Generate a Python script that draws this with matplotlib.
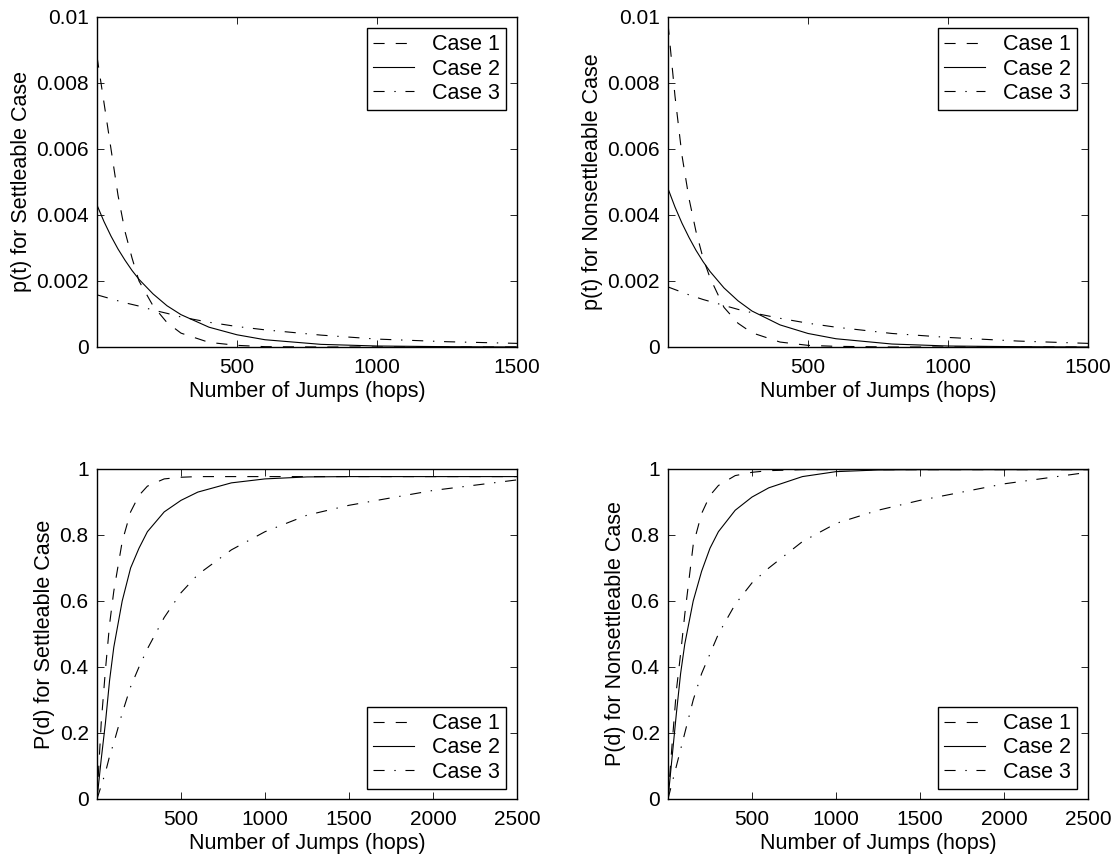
import matplotlib
matplotlib.use("Agg")
import matplotlib.pyplot as plt

plt.rcParams['font.family'] = ['Liberation Sans', 'DejaVu Sans']
plt.rcParams['font.size'] = 15.5
plt.rcParams['lines.scale_dashes'] = False

# ---- data ----
hops_top = [0, 25, 50, 75, 100, 125, 150, 200, 250, 300, 400, 500, 600, 800, 1000, 1250, 1500]

pt_settle_c1 = [0.0088, 0.0074, 0.0060, 0.0046, 0.0035, 0.0027, 0.0020, 0.00125, 0.00074, 0.00042,
                0.00014, 0.00005, 0.00001, 0.0, 0.0, 0.0, 0.0]
pt_settle_c2 = [0.0043, 0.0038, 0.00336, 0.00297, 0.00263, 0.00232, 0.00205, 0.00161, 0.00125, 0.00098,
                0.00060, 0.00037, 0.00022, 0.00008, 0.00003, 0.00001, 0.0]
pt_settle_c3 = [0.00158, 0.00152, 0.00146, 0.00140, 0.00134, 0.00129, 0.00124, 0.00112, 0.00102, 0.00091,
                0.00075, 0.00062, 0.00052, 0.00036, 0.00024, 0.00016, 0.00011]

pt_nonsettle_c1 = [0.0098, 0.0076, 0.0058, 0.0045, 0.0035, 0.0027, 0.0021, 0.0012, 0.00072, 0.00043,
                   0.00015, 0.00005, 0.00002, 0.0, 0.0, 0.0, 0.0]
pt_nonsettle_c2 = [0.0048, 0.00424, 0.00375, 0.00332, 0.00293, 0.00259, 0.00229, 0.00179, 0.0014, 0.00109,
                   0.00067, 0.00041, 0.00025, 0.00009, 0.00003, 0.00001, 0.0]
pt_nonsettle_c3 = [0.00182, 0.00174, 0.00166, 0.00158, 0.00151, 0.00144, 0.00138, 0.00126, 0.00114, 0.00104,
                   0.00087, 0.00072, 0.0006, 0.00041, 0.00029, 0.00018, 0.00011]

hops_bot = [0, 25, 50, 75, 100, 150, 200, 250, 300, 400, 500, 600, 800, 1000, 1250, 1500, 2000, 2500]

Pd_settle_c1 = [0, 0.23, 0.39, 0.53, 0.63, 0.78, 0.87, 0.92, 0.948, 0.97, 0.975, 0.977, 0.977, 0.977,
                0.977, 0.977, 0.977, 0.977]
Pd_settle_c2 = [0, 0.12, 0.23, 0.36, 0.46, 0.60, 0.70, 0.76, 0.81, 0.87, 0.905, 0.93, 0.958, 0.97,
                0.976, 0.977, 0.977, 0.977]
Pd_settle_c3 = [0, 0.04, 0.08, 0.13, 0.17, 0.26, 0.34, 0.40, 0.455, 0.55, 0.625, 0.68, 0.755, 0.81,
                0.86, 0.89, 0.935, 0.967]

Pd_nonsettle_c1 = [0, 0.17, 0.33, 0.44, 0.56, 0.77, 0.865, 0.92, 0.95, 0.98, 0.99, 0.995, 0.998, 0.998,
                   0.998, 0.998, 0.998, 0.998]
Pd_nonsettle_c2 = [0, 0.13, 0.26, 0.38, 0.47, 0.60, 0.69, 0.76, 0.81, 0.875, 0.915, 0.943, 0.977, 0.992,
                   0.997, 0.998, 0.998, 0.998]
Pd_nonsettle_c3 = [0, 0.05, 0.10, 0.15, 0.20, 0.30, 0.38, 0.44, 0.50, 0.59, 0.655, 0.70, 0.78, 0.835,
                   0.875, 0.905, 0.955, 0.99]

case_labels = ['Case 1', 'Case 2', 'Case 3']

dash = (0, (8, 8))
dashdot = (0, (8, 7, 1, 7))
styles = [dash, '-', dashdot]

fig = plt.figure(figsize=(11.17, 8.65), dpi=100)
W, H = 1117, 865
boxes = [(97, 17), (668, 17), (97, 469), (668, 469)]
axes = [fig.add_axes([x / W, 1 - (y + 330) / H, 420 / W, 330 / H]) for x, y in boxes]

panels = [
    (hops_top, [pt_settle_c1, pt_settle_c2, pt_settle_c3], 'p(t) for Settleable Case'),
    (hops_top, [pt_nonsettle_c1, pt_nonsettle_c2, pt_nonsettle_c3], 'p(t) for Nonsettleable Case'),
    (hops_bot, [Pd_settle_c1, Pd_settle_c2, Pd_settle_c3], 'P(d) for Settleable Case'),
    (hops_bot, [Pd_nonsettle_c1, Pd_nonsettle_c2, Pd_nonsettle_c3], 'P(d) for Nonsettleable Case'),
]

for i, (ax, (xs, series, ylab)) in enumerate(zip(axes, panels)):
    for ys, ls, lab in zip(series, styles, case_labels):
        ax.plot(xs, ys, color='black', linestyle=ls, linewidth=0.8, label=lab)
    if i < 2:
        ax.set_xlim(0, 1500)
        ax.set_xticks([500, 1000, 1500])
        ax.set_ylim(0, 0.01)
        ax.set_yticks([0, 0.002, 0.004, 0.006, 0.008, 0.01])
        ax.set_yticklabels(['0', '0.002', '0.004', '0.006', '0.008', '0.01'])
        leg_loc, leg_anchor = 'upper right', (0.974, 0.967)
    else:
        ax.set_xlim(0, 2500)
        ax.set_xticks([500, 1000, 1500, 2000, 2500])
        ax.set_ylim(0, 1)
        ax.set_yticks([0, 0.2, 0.4, 0.6, 0.8, 1])
        ax.set_yticklabels(['0', '0.2', '0.4', '0.6', '0.8', '1'])
        leg_loc, leg_anchor = 'lower right', (0.974, 0.03)
    ax.set_xlabel('Number of Jumps (hops)', labelpad=3)
    ax.set_ylabel(ylab, labelpad=3)
    ax.tick_params(direction='in', top=True, right=True, length=5, width=0.6, pad=6, labelsize=15)
    ax.tick_params(axis='x', pad=8)
    for sp in ax.spines.values():
        sp.set_linewidth(1.0)
    leg = ax.legend(loc=leg_loc, bbox_to_anchor=leg_anchor, fancybox=False, framealpha=1,
                    edgecolor='black', handlelength=1.9, handletextpad=0.8, labelspacing=0.15,
                    borderpad=0.3, borderaxespad=0, fontsize=15.5)
    leg.get_frame().set_linewidth(1.0)

fig.savefig('out.png', dpi=100)
